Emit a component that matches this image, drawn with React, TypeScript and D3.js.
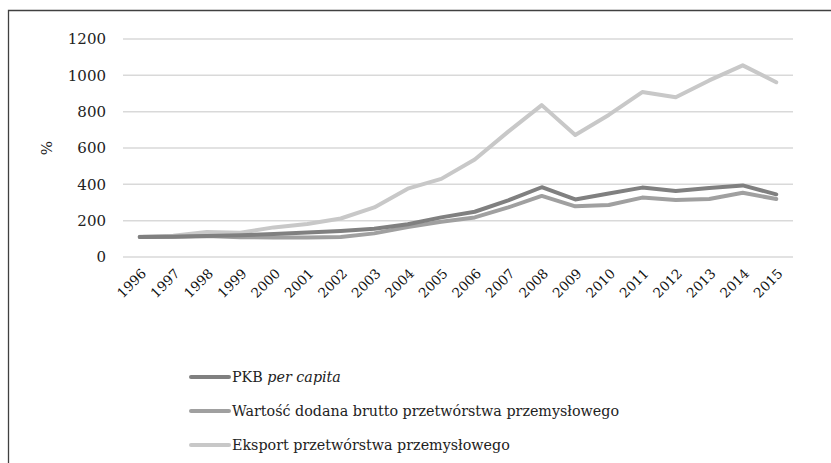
import React, { useRef, useEffect } from 'react';
import * as d3 from 'd3';

const years = ['1996', '1997', '1998', '1999', '2000', '2001', '2002', '2003', '2004', '2005',
  '2006', '2007', '2008', '2009', '2010', '2011', '2012', '2013', '2014', '2015'];
const pkb = [110, 112, 116, 120, 126, 135, 143, 155, 180, 218, 249, 312, 384, 317, 350, 382, 363, 380, 394, 345];
const wartosc = [110, 111, 115, 109, 107, 108, 110, 130, 165, 194, 218, 273, 336, 279, 286, 327, 314, 319, 354, 319];
const eksport = [112, 117, 137, 134, 163, 182, 212, 273, 376, 430, 537, 690, 836, 672, 782, 908, 879, 972, 1055, 962];
const yTicks = [0, 200, 400, 600, 800, 1000, 1200];

const series = [
  { name: 'PKB', italic: 'per capita', values: pkb, color: '#808080' },
  { name: 'Wartość dodana brutto przetwórstwa przemysłowego', italic: '', values: wartosc, color: '#a0a0a0' },
  { name: 'Eksport przetwórstwa przemysłowego', italic: '', values: eksport, color: '#c8c8c8' },
];

const W = 831, H = 463;
const m = { left: 123, right: 38, top: 39, bottom: 206 };
const font = "'DejaVu Serif', serif";

const App: React.FC = () => {
  const ref = useRef<SVGSVGElement | null>(null);

  useEffect(() => {
    const svg = d3.select(ref.current);
    svg.selectAll('*').remove();

    // chart frame: only top and left edges are inside the picture
    svg.append('path')
      .attr('d', `M8.5,${H}V10.5H${W}`)
      .attr('fill', 'none').attr('stroke', '#404040').attr('stroke-width', 1.3);

    const x = d3.scaleBand<string>().domain(years).range([m.left, W - m.right]);
    const y = d3.scaleLinear().domain([0, 1200]).range([H - m.bottom, m.top]);

    // gridlines + y labels
    const gy = svg.append('g').style('font-family', font).style('font-size', '15px').attr('fill', '#222');
    yTicks.forEach((t) => {
      gy.append('line')
        .attr('x1', m.left).attr('x2', W - m.right)
        .attr('y1', y(t)).attr('y2', y(t))
        .attr('stroke', '#d9d9d9').attr('stroke-width', 1.5);
      gy.append('text')
        .attr('x', 106).attr('y', y(t)).attr('dy', '0.35em')
        .attr('text-anchor', 'end')
        .text(t);
    });

    svg.append('text')
      .attr('transform', `translate(52, ${y(600)}) rotate(-90)`)
      .attr('text-anchor', 'middle')
      .style('font-family', font).style('font-size', '15px').attr('fill', '#222')
      .text('%');

    // x labels rotated
    const gx = svg.append('g').style('font-family', font).style('font-size', '13.5px').attr('fill', '#111');
    years.forEach((yr) => {
      const cx = x(yr)! + x.bandwidth() / 2;
      gx.append('text')
        .attr('transform', `translate(${cx + 4}, ${H - m.bottom + 14}) rotate(-45)`)
        .attr('text-anchor', 'end')
        .attr('dy', '0.35em')
        .text(yr);
    });

    const line = d3.line<number>()
      .x((_, i) => x(years[i])! + x.bandwidth() / 2)
      .y((d) => y(d));

    [...series].reverse().forEach((s) => {
      svg.append('path')
        .attr('d', line(s.values)!)
        .attr('fill', 'none')
        .attr('stroke', s.color)
        .attr('stroke-width', 4)
        .attr('stroke-linejoin', 'round')
        .attr('stroke-linecap', 'round');
    });

    // legend
    const gl = svg.append('g').style('font-family', font).style('font-size', '14.3px').attr('fill', '#222');
    series.forEach((s, i) => {
      const ly = 377 + i * 34;
      gl.append('line')
        .attr('x1', 191).attr('x2', 229)
        .attr('y1', ly).attr('y2', ly)
        .attr('stroke', s.color).attr('stroke-width', 4).attr('stroke-linecap', 'round');
      const t = gl.append('text')
        .attr('x', 232).attr('y', ly).attr('dy', '0.35em');
      t.append('tspan').text(s.name);
      if (s.italic) {
        t.append('tspan').style('font-style', 'italic').text(' ' + s.italic);
      }
    });
  }, []);

  return (
    <svg
      ref={ref}
      width={W}
      height={H}
      style={{ position: 'absolute', left: 0, top: 0, background: '#fff' }}
    />
  );
};

export default App;
